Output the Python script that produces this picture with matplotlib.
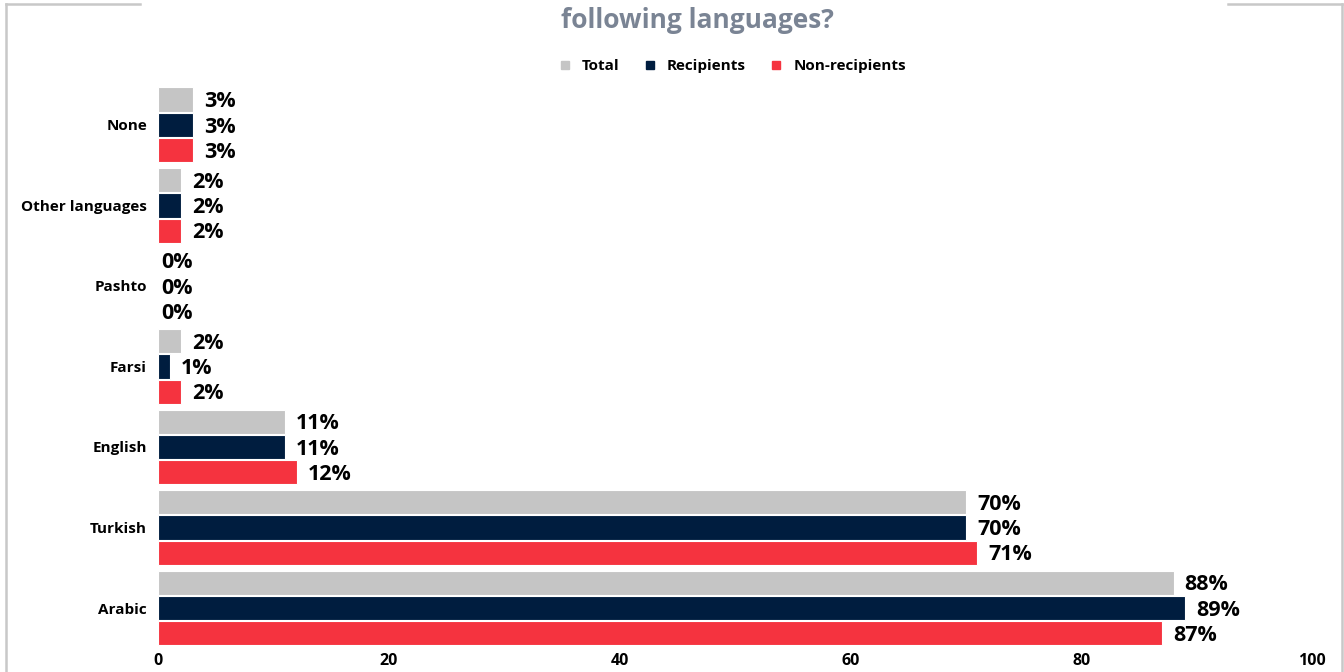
import numpy as np
import matplotlib
matplotlib.use('Agg')
import matplotlib.pyplot as plt
from matplotlib.lines import Line2D

plt.rcParams['font.family'] = ['Open Sans', 'DejaVu Sans']

# --- Data (bottom to top) ---
languages = ['Arabic', 'Turkish', 'English', 'Farsi', 'Pashto', 'Other languages', 'None']
total = [88, 70, 11, 2, 0, 2, 3]
recipients = [89, 70, 11, 1, 0, 2, 3]
non_recipients = [87, 71, 12, 2, 0, 2, 3]

series = [
    ('Total', total, '#c5c5c5', 0.315),
    ('Recipients', recipients, '#001d3f', 0.0),
    ('Non-recipients', non_recipients, '#f5333f', -0.315),
]

fig = plt.figure(figsize=(13.44, 6.72), dpi=100)
ax = fig.add_axes([0.1176, 0.0317, 0.8586, 0.8423])

y = np.arange(len(languages))
for name, vals, color, off in series:
    bars = ax.barh(y + off, vals, height=0.30, color=color, edgecolor='white',
                   linewidth=0.8, label=name)
    for b, v in zip(bars, vals):
        pad = 8 if v > 0 else 2
        ax.annotate(f'{v}%', (b.get_width(), b.get_y() + b.get_height() / 2),
                    xytext=(pad, -1.5), textcoords='offset points',
                    va='center', ha='left', fontsize=15.5, fontweight='bold',
                    color='black')

ax.set_xlim(0, 100)
ax.set_ylim(-0.53, 6.5)
ax.set_yticks(y)
ax.set_yticklabels(languages, fontsize=11, fontweight='bold')
ax.set_xticks([0, 20, 40, 60, 80, 100])
ax.set_xticklabels(['0', '20', '40', '60', '80', '100'], fontsize=11.5, fontweight='bold')
ax.tick_params(axis='both', length=0)
ax.tick_params(axis='x', pad=2)
ax.tick_params(axis='y', pad=8)
for s in ax.spines.values():
    s.set_visible(False)

# legend
handles = [Line2D([], [], marker='s', linestyle='', markersize=6, color=c)
           for _, _, c, _ in series]
fig.legend(handles, [n for n, _, _, _ in series], loc='center',
           bbox_to_anchor=(0.5415, 0.902), ncol=3, frameon=False,
           prop={'weight': 'bold', 'size': 11}, handletextpad=0.1,
           columnspacing=1.0)

# title (last line visible)
fig.text(0.519, 0.97, 'following languages?', ha='center', va='center',
         fontsize=19, fontweight='bold', color='#7a8494')

# surrounding frame
fc = '#c8c8c8'
fig.add_artist(Line2D([0.0045, 0.0045], [0.994, 0.0], color=fc, lw=1.8))
fig.add_artist(Line2D([0.9985, 0.9985], [0.994, 0.0], color=fc, lw=1.8))
fig.add_artist(Line2D([0.0045, 0.104], [0.994, 0.994], color=fc, lw=1.8))
fig.add_artist(Line2D([0.914, 0.9985], [0.994, 0.994], color=fc, lw=1.8))

fig.savefig('out.png', dpi=100)
